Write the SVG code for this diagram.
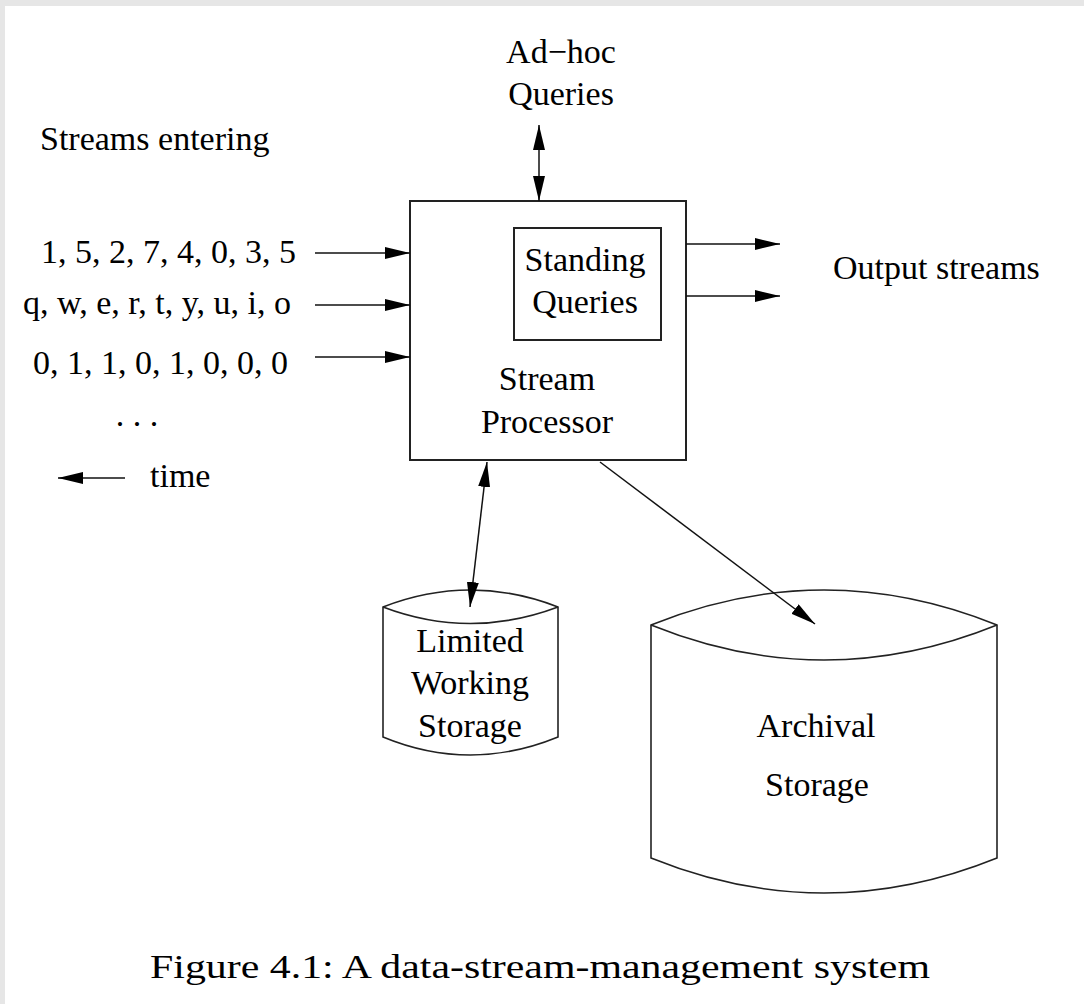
<svg xmlns="http://www.w3.org/2000/svg" width="1084" height="1004" viewBox="0 0 1084 1004">
  <style>
    .t { font-family: "Liberation Serif", "Times New Roman", serif; font-size: 34px; fill: #000; }
    .mid { text-anchor: middle; }
    .end { text-anchor: end; }
    .box { fill: #fff; stroke: #222; stroke-width: 2; }
    .shape { fill: #fff; stroke: #222; stroke-width: 1.6; }
    .edge { fill: none; stroke: #111; stroke-width: 1.5; }
    .cap { font-family: "Liberation Serif", "Times New Roman", serif; font-size: 33px; fill: #000; }
  </style>
  <defs>
    <marker id="head" viewBox="0 0 25 12" refX="25" refY="6" markerWidth="25" markerHeight="12" markerUnits="userSpaceOnUse" orient="auto-start-reverse">
      <path d="M0,0 L25,6 L0,12 z" fill="#000"/>
    </marker>
  </defs>

  <!-- page background with grey margin -->
  <rect x="0" y="0" width="1084" height="1004" fill="#e6e6e6"/>
  <rect x="5" y="6" width="1079" height="998" fill="#fff"/>

  <!-- incoming streams -->
  <g id="streams">
    <text class="t" x="40" y="150">Streams entering</text>
    <text class="t end" x="296" y="263">1, 5, 2, 7, 4, 0, 3, 5</text>
    <text class="t end" x="291" y="314">q, w, e, r, t, y, u, i, o</text>
    <text class="t end" x="288" y="374">0, 1, 1, 0, 1, 0, 0, 0</text>
    <text class="t mid" x="137" y="426">. . .</text>
    <text class="t" x="150" y="487">time</text>
  </g>

  <g id="adhoc">
    <text class="t mid" x="561" y="63">Ad−hoc</text>
    <text class="t mid" x="561" y="105">Queries</text>
  </g>

  <g id="output">
    <text class="t" x="833" y="279">Output streams</text>
  </g>

  <!-- stream processor with standing queries -->
  <g id="processor">
    <rect class="box" x="410" y="201" width="276" height="259"/>
    <text class="t mid" x="547" y="390">Stream</text>
    <text class="t mid" x="547" y="433">Processor</text>
  </g>
  <g id="standing">
    <rect class="box" x="514" y="228" width="147" height="112"/>
    <text class="t mid" x="585" y="271">Standing</text>
    <text class="t mid" x="585" y="313">Queries</text>
  </g>

  <!-- working storage cylinder -->
  <g id="working">
    <path class="shape" d="M383,607 Q470,573 558,607 L558,737 Q470,773 383,737 Z"/>
    <path class="shape" d="M383,607 Q470,640 558,607"/>
    <text class="t mid" x="470" y="652">Limited</text>
    <text class="t mid" x="470" y="694">Working</text>
    <text class="t mid" x="470" y="737">Storage</text>
  </g>

  <!-- archival storage cylinder -->
  <g id="archival">
    <path class="shape" d="M651,625 Q824,555 997,625 L997,858 Q824,928 651,858 Z"/>
    <path class="shape" d="M651,625 Q824,695 997,625"/>
    <text class="t mid" x="816" y="737">Archival</text>
    <text class="t mid" x="817" y="796">Storage</text>
  </g>

  <!-- connectors -->
  <g id="connectors">
    <line class="edge" x1="315" y1="253" x2="410" y2="253" marker-end="url(#head)"/>
    <line class="edge" x1="315" y1="305" x2="410" y2="305" marker-end="url(#head)"/>
    <line class="edge" x1="315" y1="357" x2="410" y2="357" marker-end="url(#head)"/>
    <line class="edge" x1="125" y1="478" x2="58" y2="478" marker-end="url(#head)"/>
    <line class="edge" x1="539" y1="125" x2="539" y2="201" marker-start="url(#head)" marker-end="url(#head)"/>
    <line class="edge" x1="686" y1="244" x2="780" y2="244" marker-end="url(#head)"/>
    <line class="edge" x1="686" y1="296" x2="780" y2="296" marker-end="url(#head)"/>
    <line class="edge" x1="487" y1="462" x2="470" y2="607" marker-start="url(#head)" marker-end="url(#head)"/>
    <line class="edge" x1="600" y1="462" x2="815" y2="624" marker-end="url(#head)"/>
  </g>

  <text class="cap" x="150" y="978" textLength="780" lengthAdjust="spacingAndGlyphs">Figure 4.1: A data-stream-management system</text>
</svg>
